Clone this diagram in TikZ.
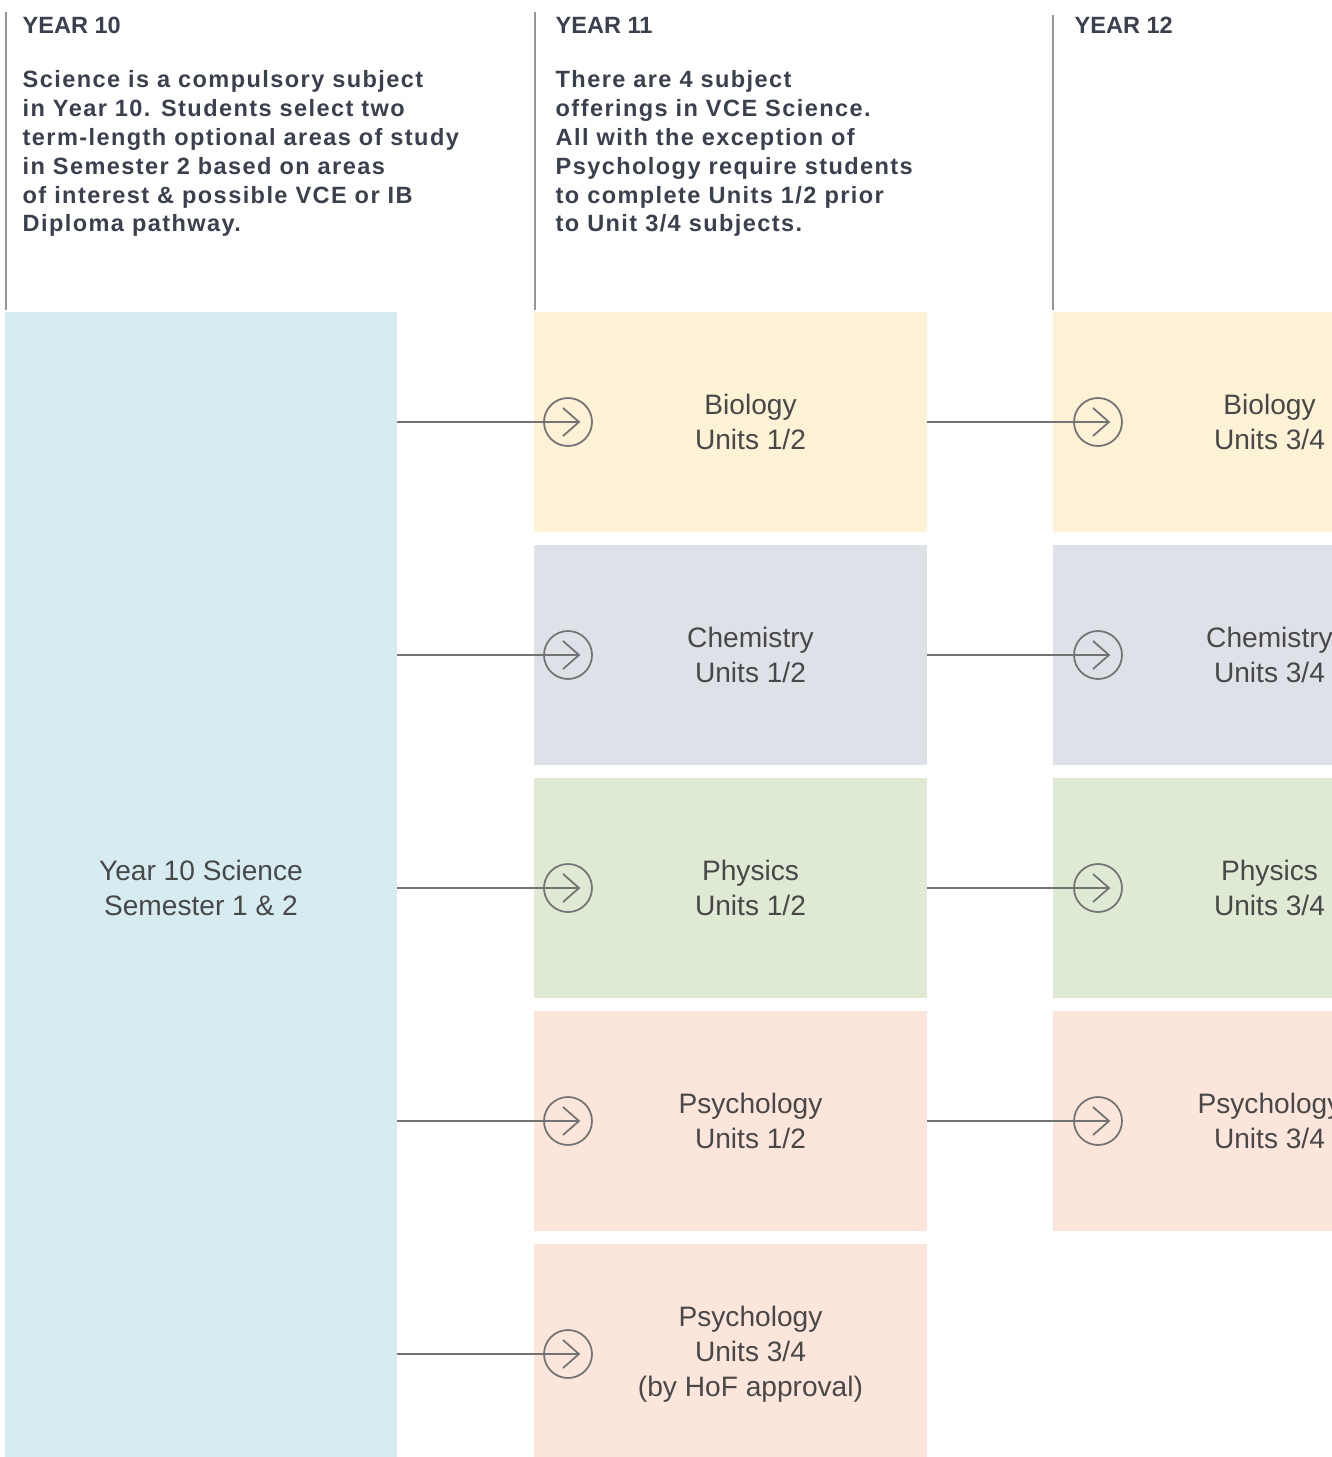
\documentclass[tikz,border=0pt]{standalone}
\usepackage{fontspec}
\setmainfont{Liberation Sans}
\newfontfamily\widefont[LetterSpace=6]{Liberation Sans}
\definecolor{Ink}{RGB}{59, 64, 78}
\definecolor{Body}{RGB}{72, 72, 72}
\definecolor{Rule}{RGB}{150, 150, 150}
\definecolor{Link}{RGB}{115, 115, 115}
\definecolor{SkyBlue}{RGB}{214, 236, 241}
\definecolor{Sand}{RGB}{253, 241, 214}
\definecolor{Mist}{RGB}{223, 225, 232}
\definecolor{Sage}{RGB}{223, 234, 213}
\definecolor{Peach}{RGB}{252, 230, 220}
\usetikzlibrary{positioning}

\begin{document}
\begin{tikzpicture}[
        node distance=0.13cm and 1.26cm,
        unit/.style={rectangle, fill=#1, minimum width=3.93cm, minimum height=2.2cm, inner sep=0pt, outer sep=0pt},
        subj/.style={xshift=0.2cm, align=center, text=Body, font=\fontsize{8}{10}\selectfont},
        yearhead/.style={anchor=west, inner sep=0pt, text=Ink, font=\bfseries\fontsize{6.7}{8}\selectfont},
        blurb/.style={anchor=north west, inner sep=0pt, align=left, text=Ink, font=\widefont\bfseries\fontsize{6.7}{8.2}\selectfont},
        rule/.style={draw=Rule, line width=0.6pt},
        go/.style={circle, draw=Link, line width=0.5pt, minimum size=0.48cm, inner sep=0pt,
            path picture={\draw[Link, line width=0.5pt]
                ([xshift=-0.05cm, yshift=0.14cm]path picture bounding box.center) --
                ([xshift=0.11cm]path picture bounding box.center) --
                ([xshift=-0.05cm, yshift=-0.14cm]path picture bounding box.center);}},
        link/.style={draw=Link, line width=0.5pt}
    ]
        \useasboundingbox (0,0) rectangle (13.32,-14.57);
        \clip (0,0) rectangle (13.32,-14.57);

        % column heads
        \draw[rule] (0.06,-0.12) -- (0.06,-3.10);
        \draw[rule] (5.35,-0.12) -- (5.35,-3.10);
        \draw[rule] (10.53,-0.15) -- (10.53,-3.10);
        \node[yearhead] (h10) at (0.22,-0.25) {YEAR 10};
        \node[yearhead] (h11) at (5.55,-0.25) {YEAR 11};
        \node[yearhead] (h12) at (10.74,-0.25) {YEAR 12};
        \node[blurb] (t10) at (0.22,-0.70) {Science is a compulsory subject\\in Year 10. Students select two\\term-length optional areas of study\\in Semester 2 based on areas\\of interest \& possible VCE or IB\\Diploma pathway.};
        \node[blurb] (t11) at (5.55,-0.70) {There are 4 subject\\offerings in VCE Science.\\All with the exception of\\Psychology require students\\to complete Units 1/2 prior\\to Unit 3/4 subjects.};

        % year 10
        \node[rectangle, fill=SkyBlue, minimum width=3.92cm, minimum height=11.52cm, inner sep=0pt, outer sep=0pt,
            align=center, text=Body, font=\fontsize{8}{10}\selectfont, anchor=north west] (y10) at (0.05,-3.12) {Year 10 Science\\Semester 1 \& 2};

        % year 11
        \node[unit=Sand, anchor=north west, label={[subj]center:Biology\\Units 1/2}] (bio11) at (5.34,-3.12) {};
        \node[unit=Mist, below=of bio11, label={[subj]center:Chemistry\\Units 1/2}] (chem11) {};
        \node[unit=Sage, below=of chem11, label={[subj]center:Physics\\Units 1/2}] (phys11) {};
        \node[unit=Peach, below=of phys11, label={[subj]center:Psychology\\Units 1/2}] (psy11) {};
        \node[unit=Peach, below=of psy11, label={[subj]center:Psychology\\Units 3/4\\(by HoF approval)}] (psyhof) {};

        % year 12
        \node[unit=Sand, right=of bio11, label={[subj]center:Biology\\Units 3/4}] (bio12) {};
        \node[unit=Mist, right=of chem11, label={[subj]center:Chemistry\\Units 3/4}] (chem12) {};
        \node[unit=Sage, right=of phys11, label={[subj]center:Physics\\Units 3/4}] (phys12) {};
        \node[unit=Peach, right=of psy11, label={[subj]center:Psychology\\Units 3/4}] (psy12) {};

        % arrows from year 10
        \draw[link] (y10.east |- bio11.west) -- ([xshift=0.45cm]bio11.west);
        \draw[link] (y10.east |- chem11.west) -- ([xshift=0.45cm]chem11.west);
        \draw[link] (y10.east |- phys11.west) -- ([xshift=0.45cm]phys11.west);
        \draw[link] (y10.east |- psy11.west) -- ([xshift=0.45cm]psy11.west);
        \draw[link] (y10.east |- psyhof.west) -- ([xshift=0.45cm]psyhof.west);
        \node[go] (g11a) at ([xshift=0.34cm]bio11.west) {};
        \node[go] (g11b) at ([xshift=0.34cm]chem11.west) {};
        \node[go] (g11c) at ([xshift=0.34cm]phys11.west) {};
        \node[go] (g11d) at ([xshift=0.34cm]psy11.west) {};
        \node[go] (g11e) at ([xshift=0.34cm]psyhof.west) {};

        % arrows into year 12
        \draw[link] (bio11.east) -- ([xshift=0.56cm]bio12.west);
        \draw[link] (chem11.east) -- ([xshift=0.56cm]chem12.west);
        \draw[link] (phys11.east) -- ([xshift=0.56cm]phys12.west);
        \draw[link] (psy11.east) -- ([xshift=0.56cm]psy12.west);
        \node[go] (g12a) at ([xshift=0.45cm]bio12.west) {};
        \node[go] (g12b) at ([xshift=0.45cm]chem12.west) {};
        \node[go] (g12c) at ([xshift=0.45cm]phys12.west) {};
        \node[go] (g12d) at ([xshift=0.45cm]psy12.west) {};
    \end{tikzpicture}
\end{document}
